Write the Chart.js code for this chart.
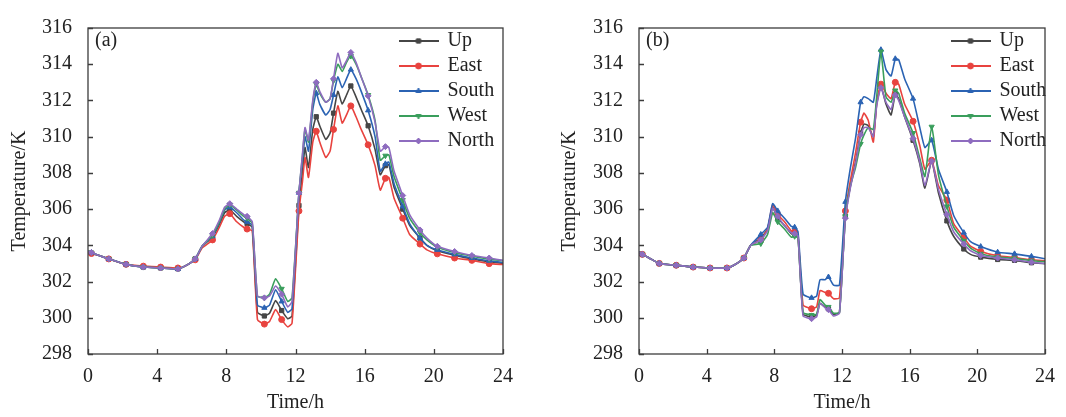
<!DOCTYPE html>
<html>
<head>
<meta charset="utf-8">
<script src="https://cdn.jsdelivr.net/npm/chart.js@4.4.1/dist/chart.umd.min.js"></script>
<style>
  body { margin: 0; background: #fff; }
  .panel { position: absolute; top: 0; width: 533px; height: 417px; }
</style>
</head>
<body>
<div class="panel" style="left:0"><canvas id="chart-a" width="533" height="417"></canvas></div>
<div class="panel" style="left:533px"><canvas id="chart-b" width="533" height="417"></canvas></div>
<script>
// Panel (a) data
const hoursA = [0, 0.2, 0.6, 1.2, 2.2, 3.2, 4.2, 5.2, 5.6, 6.2, 6.6, 7.2, 7.6, 7.9, 8.2, 8.6, 9.0, 9.2, 9.5, 9.8,
    10.2, 10.5, 10.85, 11.2, 11.55, 11.8, 12.2, 12.4, 12.55, 12.75, 13.0, 13.2, 13.4, 13.75, 14.0, 14.2, 14.45, 14.7, 14.95, 15.2,
    15.5, 15.8, 16.2, 16.6, 16.9, 17.2, 17.4, 17.7, 18.2, 18.6, 19.2, 19.6, 20.2, 21.2, 22.2, 23.2, 24];
const upA = [303.65, 303.55, 303.45, 303.25, 302.95, 302.8, 302.75, 302.7, 302.85, 303.25, 303.95, 304.45, 305.15, 305.8, 305.95, 305.6, 305.3, 305.2, 305.0, 300.3,
    300.1, 300.25, 300.95, 300.4, 299.95, 300.1, 306.2, 308.0, 309.4, 308.3, 310.4, 311.1, 310.6, 309.85, 310.2, 311.3, 312.5, 311.8, 312.3, 312.8,
    312.2, 311.5, 310.6, 309.3, 307.9, 308.4, 308.45, 307.2, 306.0, 305.1, 304.4, 304.0, 303.7, 303.45, 303.25, 303.1, 303.0];
const eastA = [303.65, 303.55, 303.45, 303.25, 302.95, 302.85, 302.8, 302.75, 302.85, 303.2, 303.85, 304.3, 305.0, 305.6, 305.75, 305.3, 305.0, 304.9, 304.8, 299.9,
    299.65, 299.8, 300.45, 299.9, 299.5, 299.7, 305.9, 307.5, 308.85, 307.75, 309.7, 310.3, 309.7, 308.85, 309.2, 310.4, 311.7, 310.75, 311.2, 311.7,
    311.1, 310.4, 309.55, 308.4, 307.05, 307.7, 307.75, 306.6, 305.5, 304.6, 304.07, 303.75, 303.53, 303.3, 303.17, 302.99, 302.94];
const southA = [303.7, 303.6, 303.45, 303.25, 302.95, 302.8, 302.75, 302.7, 302.85, 303.25, 303.95, 304.5, 305.25, 305.95, 306.1, 305.8, 305.4, 305.3, 305.1, 300.7,
    300.55, 300.7, 301.55, 300.9, 300.3, 300.5, 306.9, 308.6, 310.0, 309.2, 311.5, 312.4, 311.8, 311.2, 311.5, 312.3, 313.3, 312.7, 313.2, 313.7,
    313.2, 312.5, 311.45, 310.0, 308.1, 308.5, 308.6, 307.4, 306.15, 305.2, 304.4, 304.0, 303.75, 303.5, 303.3, 303.15, 303.05];
const westA = [303.7, 303.6, 303.45, 303.25, 302.95, 302.8, 302.75, 302.7, 302.85, 303.25, 303.95, 304.55, 305.3, 306.0, 306.25, 305.95, 305.6, 305.5, 305.2, 301.2,
    301.1, 301.3, 302.15, 301.6, 300.9, 301.1, 306.9, 308.9, 310.4, 309.7, 311.9, 312.9, 312.4, 311.9, 312.1, 313.1, 314.0, 313.6, 314.1, 314.45,
    314.0, 313.3, 312.3, 310.9, 308.7, 308.95, 309.0, 307.8, 306.5, 305.5, 304.7, 304.3, 303.9, 303.6, 303.4, 303.25, 303.15];
const northA = [303.7, 303.6, 303.45, 303.25, 302.95, 302.8, 302.75, 302.7, 302.85, 303.25, 303.95, 304.65, 305.4, 306.1, 306.3, 306.0, 305.7, 305.6, 305.3, 301.2,
    301.1, 301.2, 301.75, 301.3, 300.6, 300.9, 306.9, 309.0, 310.5, 309.8, 312.0, 313.0, 312.5, 311.9, 312.1, 313.2, 314.6, 313.8, 314.2, 314.65,
    314.1, 313.3, 312.25, 310.8, 309.2, 309.45, 309.4, 308.1, 306.75, 305.7, 304.85, 304.4, 303.95, 303.66, 303.44, 303.3, 303.17];

// Panel (b) data
const hoursB = [0, 0.2, 0.6, 1.2, 2.2, 3.2, 4.2, 5.2, 5.6, 6.2, 6.6, 7.2, 7.6, 7.9, 8.2, 8.6, 9.0, 9.2, 9.4, 9.7,
    10.2, 10.5, 10.7, 11.0, 11.2, 11.5, 11.85, 12.2, 12.5, 12.8, 13.1, 13.3, 13.55, 13.85, 14.05, 14.3, 14.6, 14.9, 15.15, 15.35,
    15.7, 16.2, 16.6, 16.9, 17.3, 17.7, 18.2, 18.6, 19.2, 19.6, 20.2, 21.2, 22.2, 23.2, 24];
const upB = [303.65, 303.5, 303.3, 303.0, 302.9, 302.8, 302.75, 302.75, 302.9, 303.3, 304.0, 304.4, 304.9, 306.1, 305.5, 305.1, 304.65, 304.6, 304.5, 300.2,
    300.05, 300.15, 300.8, 300.6, 300.5, 300.2, 300.3, 305.6, 307.3, 308.6, 310.2, 310.7, 310.6, 310.0, 311.8, 312.8, 311.8, 311.2, 312.35, 312.1,
    311.1, 309.8, 308.5, 307.15, 308.65, 306.9, 305.35, 304.5, 303.8, 303.5, 303.35, 303.22, 303.17, 303.04, 302.99];
const eastB = [303.65, 303.5, 303.3, 303.0, 302.9, 302.8, 302.75, 302.75, 302.9, 303.3, 304.0, 304.3, 304.9, 306.25, 305.7, 305.3, 304.8, 304.75, 304.6, 300.7,
    300.5, 300.6, 301.5, 301.4, 301.35, 301.05, 301.1, 305.9, 307.6, 309.1, 310.8, 311.3, 310.9, 309.7, 311.9, 312.9, 312.4, 312.1, 313.0, 312.9,
    311.8, 310.85, 309.5, 308.2, 308.7, 307.3, 306.5, 305.2, 304.43, 303.95, 303.66, 303.42, 303.32, 303.2, 303.15];
const southB = [303.65, 303.5, 303.3, 303.0, 302.9, 302.8, 302.75, 302.75, 302.9, 303.3, 304.0, 304.6, 305.0, 306.3, 305.9, 305.5, 305.05, 305.0, 304.75, 301.3,
    301.1, 301.2, 302.1, 302.1, 302.25, 301.8, 301.8, 306.4, 308.3, 309.9, 311.9, 312.2, 312.1, 311.9, 313.2, 314.8, 313.7, 313.35, 314.3, 314.25,
    313.2, 312.1, 310.5, 309.4, 309.8, 308.2, 306.95, 305.65, 304.7, 304.2, 303.93, 303.62, 303.53, 303.39, 303.26];
const westB = [303.65, 303.5, 303.3, 303.0, 302.9, 302.8, 302.75, 302.75, 302.9, 303.3, 304.0, 304.1, 304.6, 305.8, 305.3, 304.9, 304.45, 304.5, 304.4, 300.3,
    300.15, 300.2, 301.0, 300.7, 300.6, 300.25, 300.3, 305.6, 307.3, 308.3, 309.6, 310.1, 310.5, 310.4, 312.2, 314.7, 312.2, 311.9, 312.55, 312.4,
    311.3, 310.2, 308.8, 307.8, 310.55, 307.9, 306.15, 305.0, 304.25, 303.85, 303.53, 303.35, 303.28, 303.15, 303.1];
const northB = [303.65, 303.5, 303.3, 303.0, 302.9, 302.8, 302.75, 302.75, 302.9, 303.3, 304.0, 304.3, 304.8, 306.05, 305.6, 305.1, 304.7, 304.65, 304.5, 300.1,
    299.95, 300.05, 300.8, 300.55, 300.45, 300.1, 300.25, 305.5, 307.2, 308.5, 310.1, 310.5, 310.5, 310.0, 311.7, 312.7, 311.9, 311.5, 312.3, 312.0,
    311.1, 309.9, 308.6, 307.3, 308.65, 307.1, 305.7, 304.75, 304.07, 303.7, 303.44, 303.3, 303.2, 303.07, 303.0];

const seriesNames = ['Up', 'East', 'South', 'West', 'North'];
const seriesColors = ['#464646', '#e8433f', '#2b63b3', '#3a9e5c', '#8e6cbf'];
const markerStyles = ['rect', 'circle', 'triangle', 'triangle', 'rectRot'];
const markerRotations = [0, 0, 0, 180, 0];
const xTicks = [0, 4, 8, 12, 16, 20, 24];
const yTicks = [298, 300, 302, 304, 306, 308, 310, 312, 314, 316];

const SERIF = "'Liberation Serif', 'Times New Roman', serif";
Chart.defaults.font.family = SERIF;
Chart.defaults.font.size = 20;
Chart.defaults.color = '#222';

// one marker per hour, on the point closest to h + 0.2
function markerIndexes(hours) {
    const set = new Set();
    for (let h = 0; h < 24; h++) {
        let best = -1, bestD = 1;
        hours.forEach((t, i) => {
            const d = Math.abs(t - (h + 0.2));
            if (d < bestD - 1e-9) { bestD = d; best = i; }
        });
        if (bestD < 0.3) set.add(best);
    }
    return set;
}

// legend icon: short line with the marker in the middle
function makeIcon(color, style, rotation) {
    const c = document.createElement('canvas');
    c.width = 40; c.height = 12;
    const g = c.getContext('2d');
    g.strokeStyle = color; g.lineWidth = 2;
    g.beginPath(); g.moveTo(0, 6); g.lineTo(40, 6); g.stroke();
    g.fillStyle = color; g.lineWidth = 1;
    if (Chart.helpers && Chart.helpers.drawPoint) {
        Chart.helpers.drawPoint(g, { pointStyle: style, rotation: rotation, radius: 3, borderWidth: 1 }, 20, 6);
    } else {
        g.beginPath(); g.arc(20, 6, 2.5, 0, Math.PI * 2); g.fill();
    }
    return c;
}

const framePlugin = {
    id: 'frame',
    afterLayout(chart, args, opts) {
        const lg = chart.legend;
        if (!lg) return;
        lg.left = opts.legendX;
        lg.top = opts.legendY;
        lg.right = lg.left + lg.width;
        lg.bottom = lg.top + 200;
    },
    afterDraw(chart, args, opts) {
        const { ctx, chartArea: a, scales } = chart;
        ctx.save();
        ctx.strokeStyle = '#3c3c3c';
        ctx.lineWidth = 1.3;
        ctx.strokeRect(a.left, a.top, a.right - a.left, a.bottom - a.top);
        ctx.beginPath();
        scales.x.ticks.forEach(t => {
            const px = Math.round(scales.x.getPixelForValue(t.value)) + 0.5;
            ctx.moveTo(px, a.bottom); ctx.lineTo(px, a.bottom - 5);
        });
        scales.y.ticks.forEach(t => {
            const py = Math.round(scales.y.getPixelForValue(t.value)) + 0.5;
            ctx.moveTo(a.left, py); ctx.lineTo(a.left + 5, py);
        });
        ctx.stroke();
        ctx.fillStyle = '#222';
        ctx.font = '20px ' + SERIF;
        ctx.textBaseline = 'middle';
        ctx.fillText(opts.label, a.left + opts.labelDx, 41);
        ctx.restore();
    }
};

function makeChart(id, hours, values, o) {
    const marks = markerIndexes(hours);
    const datasets = seriesNames.map((name, i) => ({
        label: name,
        data: hours.map((h, k) => ({ x: h, y: values[i][k] })),
        borderColor: seriesColors[i],
        backgroundColor: seriesColors[i],
        borderWidth: 1.6,
        tension: 0.15,
        pointStyle: markerStyles[i],
        pointRotation: markerRotations[i],
        pointRadius: ctx => marks.has(ctx.dataIndex) ? 3 : 0,
        pointBorderWidth: 1,
        order: seriesNames.length - 1 - i
    }));
    const icons = seriesNames.map((n, i) => makeIcon(seriesColors[i], markerStyles[i], markerRotations[i]));

    return new Chart(document.getElementById(id).getContext('2d'), {
        type: 'line',
        data: { datasets },
        options: {
            responsive: false,
            animation: false,
            layout: { padding: { top: 21, right: o.padRight, bottom: 0, left: 0 } },
            scales: {
                x: {
                    type: 'linear',
                    min: xTicks[0],
                    max: xTicks[xTicks.length - 1],
                    afterBuildTicks: s => { s.ticks = xTicks.map(v => ({ value: v })); },
                    grid: { display: false, drawTicks: false },
                    border: { display: false },
                    ticks: { padding: 11, maxRotation: 0, autoSkip: false },
                    title: { display: true, text: 'Time/h', padding: { top: 0, bottom: 2 } },
                    afterFit: s => { s.height = 63; }
                },
                y: {
                    min: yTicks[0],
                    max: yTicks[yTicks.length - 1],
                    afterBuildTicks: s => { s.ticks = yTicks.map(v => ({ value: v })); },
                    grid: { display: false, drawTicks: false },
                    border: { display: false },
                    ticks: { padding: 16 },
                    title: { display: true, text: 'Temperature/K', padding: { top: o.titlePad, bottom: 0 } },
                    afterFit: s => { s.width = o.yWidth; }
                }
            },
            plugins: {
                tooltip: { enabled: false },
                legend: {
                    position: 'chartArea',
                    align: 'start',
                    labels: {
                        usePointStyle: true,
                        pointStyleWidth: 38,
                        padding: 5,
                        color: '#222',
                        font: { size: 20, family: SERIF },
                        generateLabels: chart => {
                            const items = Chart.defaults.plugins.legend.labels.generateLabels(chart);
                            items.sort((p, q) => p.datasetIndex - q.datasetIndex);
                            items.forEach(it => {
                                it.pointStyle = icons[it.datasetIndex];
                                it.rotation = 0;
                            });
                            return items;
                        }
                    }
                },
                frame: { legendX: o.legendX, legendY: 26, label: o.label, labelDx: o.labelDx }
            }
        },
        plugins: [framePlugin]
    });
}

makeChart('chart-a', hoursA, [upA, eastA, southA, westA, northA],
    { yWidth: 88, padRight: 30, titlePad: 8, legendX: 394.5, label: '(a)', labelDx: 7 });
makeChart('chart-b', hoursB, [upB, eastB, southB, westB, northB],
    { yWidth: 106, padRight: 10, titlePad: 25, legendX: 413.5, label: '(b)', labelDx: 7 });
</script>
</body>
</html>
